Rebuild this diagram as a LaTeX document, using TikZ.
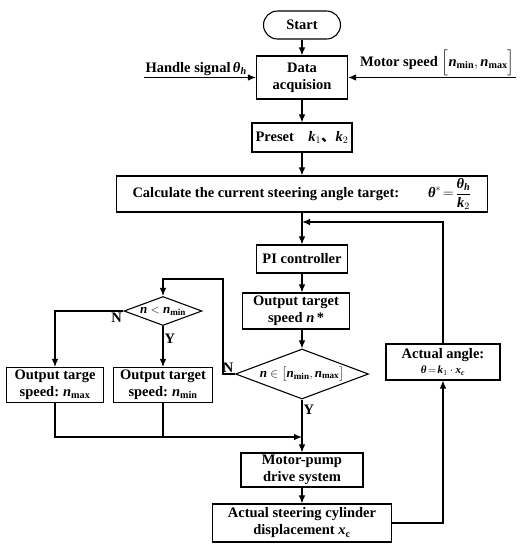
\documentclass[tikz,border=0pt]{standalone}
\usepackage{amsmath}
\usepackage{fontspec}
\setmainfont{Liberation Serif}
\newfontfamily\cjk{Noto Sans CJK SC}
\usetikzlibrary{arrows.meta, positioning, shapes.geometric}
\newcommand{\iv}[1]{\text{\itshape #1}}

\begin{document}
\begin{tikzpicture}[x=1pt, y=-1pt,
      box/.style={draw, line width=1.1pt, align=center, inner sep=1pt,
        font=\fontsize{14.5}{17}\selectfont\bfseries},
      decision/.style={diamond, draw, line width=1.1pt, inner sep=0pt,
        aspect=2.7, font=\fontsize{13}{15}\selectfont\bfseries},
      lbl/.style={font=\fontsize{14.5}{17}\selectfont\bfseries, inner sep=1pt},
      every path/.style={line width=1.1pt},
      >={Latex[length=8pt, width=6.5pt]}
    ]
      \useasboundingbox (0,0) rectangle (531,550);

      % main column
      \node[box, rounded corners=14pt, minimum width=77pt, minimum height=28pt]
        (start) at (302,25) {Start};
      \node[box, minimum width=91pt, minimum height=43pt]
        (data) at (302,77.5) {Data\\acquision};
      \node[box, minimum width=100pt, minimum height=29pt]
        (preset) at (302,137.5)
        {Preset\quad $\iv{k}_1$\smash{\cjk 、}$\iv{k}_2$};
      \node[box, minimum width=371pt, minimum height=36pt]
        (calc) at (302,194)
        {Calculate the current steering angle target:\qquad
         $\iv{θ}^{*}\!=\!\dfrac{\iv{θ}_{\iv{h}}}{\iv{k}_2}$};
      \node[box, minimum width=91pt, minimum height=28pt]
        (pi) at (302,259) {PI controller};
      \node[box, minimum width=107pt, minimum height=36pt]
        (target) at (296,311) {Output target\\speed $\iv{n}$\,*};
      \node[decision, minimum width=133pt, minimum height=50pt]
        (inrange) at (302,374)
        {$\iv{n}\in\bigl[\iv{n}_{\text{min}},\iv{n}_{\text{max}}\bigr]$};
      \node[box, minimum width=122pt, minimum height=34pt]
        (pump) at (302,470) {Motor-pump\\drive system};
      \node[box, minimum width=179pt, minimum height=38pt]
        (cyl) at (302,523)
        {Actual steering cylinder\\displacement $\iv{x}_{\text{c}}$};

      % limit branch
      \node[decision, minimum width=78pt, minimum height=29pt]
        (below) at (163,311) {$\iv{n}<\iv{n}_{\text{min}}$};
      \node[box, minimum width=97pt, minimum height=35pt]
        (outmax) at (55,385) {Output targe\\speed:\;$\iv{n}_{\text{max}}$};
      \node[box, minimum width=99pt, minimum height=35pt]
        (outmin) at (163,385) {Output target\\speed:\;$\iv{n}_{\text{min}}$};

      % feedback
      \node[box, minimum width=114pt, minimum height=36pt]
        (angle) at (443,362)
        {Actual angle:\\[-2pt]{\fontsize{11}{13}\selectfont
         $\iv{θ}\!=\!\iv{k}_1\cdot\iv{x}_{\iv{c}}$}};

      \coordinate (hs) at (144,77);
      \coordinate (ms) at (516,77);
      \coordinate (join) at (302,222);
      \coordinate (turn) at (223,279);
      \coordinate (merge) at (302,437);

      \draw[->] (start) -- (data);
      \draw[->] (hs |- data) node[lbl, above right]
        {Handle signal\,$\iv{θ}_{\iv{h}}$} -- (data);
      \draw[->] (ms |- data) node[lbl, above left]
        {Motor speed\;$\Bigl[\iv{n}_{\text{min}},\iv{n}_{\text{max}}\Bigr]$}
        -- (data);
      \draw[->] (data) -- (preset);
      \draw[->] (preset) -- (calc);
      \draw[->] (calc) -- (pi);
      \draw[->] (pi) -- (pi |- target.north);
      \draw[->] (pi |- target.south) -- (inrange);
      \draw[->] (inrange) -- node[lbl, pos=0.2, right] {Y} (pump);
      \draw[->] (pump) -- (cyl);

      \draw[->] (inrange.west) node[lbl, above left] {N} -| (turn)
        -| (below.north);
      \draw[->] (below.west) node[lbl, below left] {N} -| (outmax.north);
      \draw[->] (below.south) -- node[lbl, pos=0.3, right] {Y} (outmin.north);
      \draw[->] (outmax.south) |- (merge);
      \draw (outmin.south) -- (outmin.south |- merge);

      \draw[->] (cyl.east) -| (angle.south);
      \draw[->] (angle.north) |- (join);
    \end{tikzpicture}
\end{document}
